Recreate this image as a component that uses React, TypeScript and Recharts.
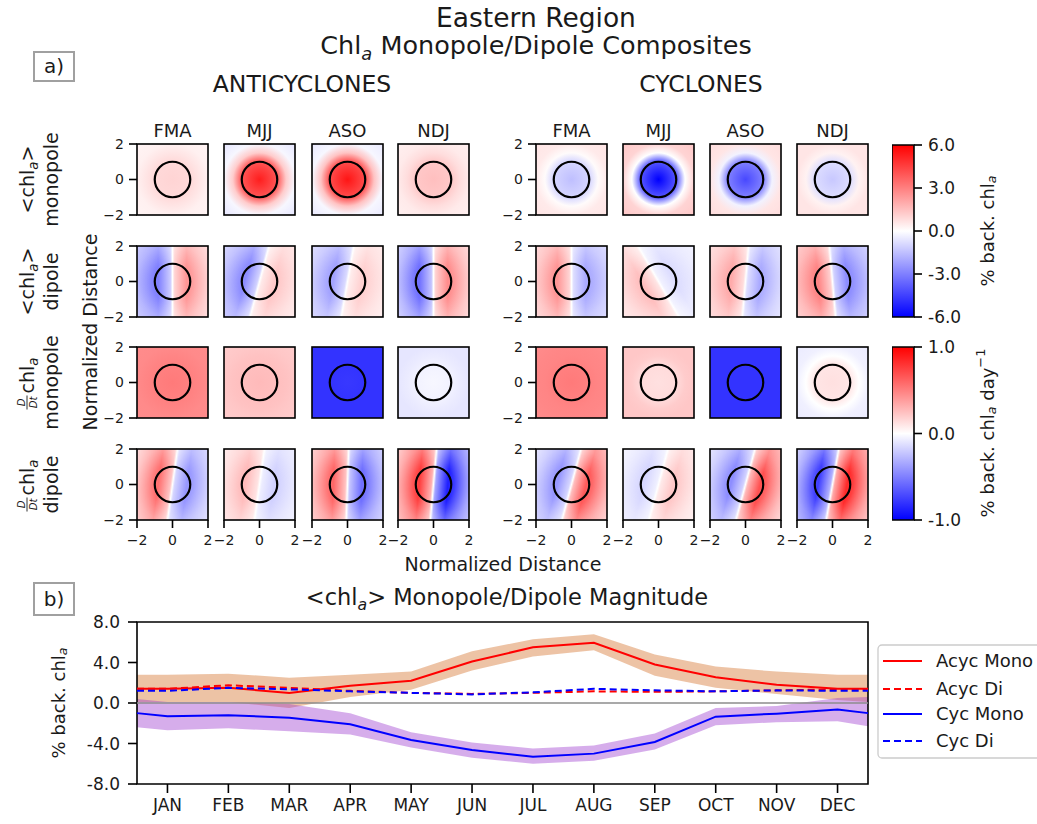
import React from 'react';
import {
  ComposedChart, ScatterChart, BarChart, Scatter, Bar, Area, Line,
  XAxis, YAxis, ReferenceArea, ReferenceLine,
} from 'recharts';

const FONT = '"DejaVu Sans", sans-serif';
const INK = '#1a1a1a';

// ---- composite panels -------------------------------------------------
const seasons = ['FMA', 'MJJ', 'ASO', 'NDJ'];

// normalized radii where the monopole profiles are sampled
const monoRadii = [0, 1, 1.5, 2, 2.83];

const acChlMono = [
  [1.0, 0.9, 0.6, 0.35, 0.25],
  [5.3, 4.0, 1.2, -0.2, -0.6],
  [5.5, 4.2, 1.4, -0.2, -0.5],
  [1.5, 1.3, 0.8, 0.5, 0.35],
];
const cyChlMono = [
  [-1.5, -1.0, 0.1, 0.5, 0.6],
  [-6.0, -4.0, 0.0, 1.0, 1.3],
  [-4.3, -3.0, -0.3, 0.6, 0.8],
  [-1.3, -0.8, 0.3, 0.6, 0.6],
];
const acRateMono = [
  [0.52, 0.5, 0.48, 0.46, 0.45],
  [0.27, 0.25, 0.24, 0.22, 0.2],
  [-0.78, -0.8, -0.8, -0.8, -0.8],
  [-0.03, -0.05, -0.08, -0.1, -0.1],
];
const cyRateMono = [
  [0.52, 0.5, 0.48, 0.47, 0.45],
  [0.12, 0.14, 0.2, 0.22, 0.22],
  [-0.8, -0.8, -0.8, -0.8, -0.8],
  [0.12, 0.1, 0.0, -0.06, -0.08],
];

// dipoles: [angle of + lobe (deg), + peak, - peak, + far, - far]
const acChlDipole = [
  [0, 2.5, -3.0, 0.9, -2.0],
  [-15, 1.3, -2.7, 0.8, -1.6],
  [-10, 1.1, -2.2, 0.6, -1.3],
  [0, 2.7, -3.4, 1.0, -1.3],
];
const cyChlDipole = [
  [180, 2.5, -2.0, 1.2, -1.4],
  [210, 1.5, -0.8, 1.0, -0.6],
  [175, 2.0, -2.0, 1.2, -0.8],
  [185, 2.9, -2.7, 1.8, -1.8],
];
const acRateDipole = [
  [172, 0.57, -0.41, 0.15, -0.15],
  [172, 0.27, -0.18, 0.1, -0.08],
  [178, 0.6, -0.57, 0.2, -0.2],
  [175, 0.76, -0.88, 0.2, -0.25],
];
const cyRateDipole = [
  [-15, 0.65, -0.41, 0.25, -0.15],
  [-15, 0.22, -0.16, 0.08, -0.06],
  [-15, 0.69, -0.45, 0.2, -0.15],
  [-10, 0.84, -0.76, 0.3, -0.2],
];

const chlTicks = [-6, -3, 0, 3, 6];
const rateTicks = [-1, 0, 1];

// ---- monthly magnitudes -------------------------------------------------
const months = ['JAN', 'FEB', 'MAR', 'APR', 'MAY', 'JUN', 'JUL', 'AUG', 'SEP', 'OCT', 'NOV', 'DEC'];
const monthPos = [0.5, 1, 2, 3, 4, 5, 6, 7, 8, 9, 10, 11, 12, 12.5];
const acycMono = [1.4, 1.4, 1.5, 1.0, 1.7, 2.2, 4.1, 5.5, 5.95, 3.8, 2.55, 1.8, 1.4, 1.4];
const acycLo = [0.1, 0.1, 0.1, -0.5, 0.6, 1.3, 3.2, 4.6, 5.2, 2.7, 1.5, 0.9, 0.3, 0.1];
const acycHi = [2.8, 2.8, 2.9, 2.5, 2.8, 3.1, 5.1, 6.3, 6.8, 4.8, 3.6, 3.1, 2.8, 2.8];
const acycDi = [1.4, 1.4, 1.75, 1.5, 1.2, 1.0, 0.9, 1.0, 1.15, 1.1, 1.15, 1.25, 1.35, 1.35];
const cycMono = [-1.0, -1.3, -1.2, -1.45, -2.1, -3.65, -4.65, -5.3, -5.0, -3.85, -1.35, -1.05, -0.65, -1.0];
const cycLo = [-2.4, -2.7, -2.5, -2.8, -3.1, -4.4, -5.4, -6.0, -5.7, -4.6, -2.2, -1.9, -1.8, -2.3];
const cycHi = [0.4, 0.1, 0.1, -0.1, -1.0, -2.9, -3.9, -4.5, -4.2, -3.0, -0.5, -0.3, 0.5, 0.6];
const cycDi = [1.2, 1.2, 1.5, 1.35, 1.15, 1.0, 0.85, 1.05, 1.4, 1.25, 1.15, 1.25, 1.2, 1.2];
const magTicks = [-8, -4, 0, 4, 8];

const magSeries = [
  { key: 'acycMono', name: 'Acyc Mono', color: '#ff0000', dash: undefined },
  { key: 'acycDi', name: 'Acyc Di', color: '#ff0000', dash: '7 4' },
  { key: 'cycMono', name: 'Cyc Mono', color: '#0000ff', dash: undefined },
  { key: 'cycDi', name: 'Cyc Di', color: '#0000ff', dash: '7 4' },
];

const magData = monthPos.map((m, i) => ({
  m,
  acycMono: acycMono[i],
  acycDi: acycDi[i],
  cycMono: cycMono[i],
  cycDi: cycDi[i],
  acycBand: [acycLo[i], acycHi[i]],
  cycBand: [cycLo[i], cycHi[i]],
}));

// matplotlib "bwr"
function bwr(v: number, lim: number) {
  const t = Math.max(0, Math.min(1, (v / lim + 1) / 2));
  if (t < 0.5) {
    const c = Math.round(510 * t);
    return `rgb(${c},${c},255)`;
  }
  const c = Math.round(510 * (1 - t));
  return `rgb(255,${c},${c})`;
}

const minus = (v: number) => (v < 0 ? `\u2212${Math.abs(v)}` : String(v));

// layout of the 4x8 grid
const S = 71;
const acLefts = [137, 224, 312, 398];
const cyLefts = [536, 623, 710, 797];
const rowTops = [144, 246, 347, 449];
const PAD_L = 40, PAD_T = 12, PAD_R = 12, PAD_B = 32;

type Row = { kind: 'mono' | 'dip'; ac: number[][]; cy: number[][]; lim: number };
const rows: Row[] = [
  { kind: 'mono', ac: acChlMono, cy: cyChlMono, lim: 6 },
  { kind: 'dip', ac: acChlDipole, cy: cyChlDipole, lim: 6 },
  { kind: 'mono', ac: acRateMono, cy: cyRateMono, lim: 1 },
  { kind: 'dip', ac: acRateDipole, cy: cyRateDipole, lim: 1 },
];

const dipStops = [-2.83, -0.8, -0.12, 0, 0.12, 0.8, 2.83];

function FieldShape(props: any) {
  const { x, y, width, height, gid, kind, spec, lim } = props;
  const cx = x + width / 2;
  const cy = y + height / 2;
  const unit = width / 4;
  const rMax = 2.83;
  let body;
  if (kind === 'mono') {
    body = (
      <>
        <defs>
          <radialGradient id={gid} gradientUnits="userSpaceOnUse" cx={cx} cy={cy} r={rMax * unit}>
            {spec.map((v: number, i: number) => (
              <stop key={i} offset={monoRadii[i] / rMax} stopColor={bwr(v, lim)} />
            ))}
          </radialGradient>
        </defs>
        <rect x={x} y={y} width={width} height={height} fill={`url(#${gid})`} />
      </>
    );
  } else {
    const [ang, pos, neg, posFar, negFar] = spec;
    const vals = [negFar, neg, 0.4 * neg, 0, 0.4 * pos, pos, posFar];
    const a = (ang * Math.PI) / 180;
    const dx = Math.cos(a) * rMax * unit;
    const dy = -Math.sin(a) * rMax * unit;
    body = (
      <>
        <defs>
          <linearGradient id={gid} gradientUnits="userSpaceOnUse" x1={cx - dx} y1={cy - dy} x2={cx + dx} y2={cy + dy}>
            {vals.map((v, i) => (
              <stop key={i} offset={(dipStops[i] + rMax) / (2 * rMax)} stopColor={bwr(v, lim)} />
            ))}
          </linearGradient>
          <radialGradient id={`${gid}-m`} gradientUnits="userSpaceOnUse" cx={cx} cy={cy} r={rMax * unit}>
            <stop offset={0} stopColor="#fff" />
            <stop offset={0.42} stopColor="#fff" />
            <stop offset={0.75} stopColor="#a8a8a8" />
            <stop offset={1} stopColor="#808080" />
          </radialGradient>
          <mask id={`${gid}-k`}>
            <rect x={x} y={y} width={width} height={height} fill={`url(#${gid}-m)`} />
          </mask>
        </defs>
        <rect x={x} y={y} width={width} height={height} fill="#fff" />
        <rect x={x} y={y} width={width} height={height} fill={`url(#${gid})`} mask={`url(#${gid}-k)`} />
      </>
    );
  }
  return (
    <g>
      {body}
      <rect x={x} y={y} width={width} height={height} fill="none" stroke="#000" strokeWidth={1.6} />
    </g>
  );
}

function EddyRing(props: any) {
  const { x, y, width, height } = props;
  return (
    <ellipse cx={x + width / 2} cy={y + height / 2} rx={width / 2} ry={height / 2}
      fill="none" stroke="#000" strokeWidth={2.2} />
  );
}

const centre = [{ x: 0, y: 0 }];
const panelTick = { fontSize: 14, fill: INK, fontFamily: FONT };

function Panel({ left, top, gid, kind, spec, lim, showX, showY }: any) {
  return (
    <div style={{ position: 'absolute', left: left - PAD_L, top: top - PAD_T }}>
      <ScatterChart width={PAD_L + S + PAD_R} height={PAD_T + S + PAD_B}
        margin={{ top: PAD_T, right: PAD_R, left: 0, bottom: 0 }}>
        <XAxis type="number" dataKey="x" domain={[-2, 2]} ticks={[-2, 0, 2]} interval={0}
          height={PAD_B} axisLine={false} tickSize={8} tickMargin={7}
          tickLine={{ stroke: '#000', strokeWidth: 1.6 }}
          tick={showX ? panelTick : false} tickFormatter={minus} />
        <YAxis type="number" dataKey="y" domain={[-2, 2]} ticks={[-2, 0, 2]} interval={0}
          width={PAD_L} axisLine={false} tickSize={8} tickMargin={5}
          tickLine={{ stroke: '#000', strokeWidth: 1.6 }}
          tick={showY ? panelTick : false} tickFormatter={minus} />
        <ReferenceArea x1={-2} x2={2} y1={-2} y2={2}
          shape={(p: any) => <FieldShape {...p} gid={gid} kind={kind} spec={spec} lim={lim} />} />
        <ReferenceArea x1={-1} x2={1} y1={-1} y2={1} shape={(p: any) => <EddyRing {...p} />} />
        <Scatter data={centre} isAnimationActive={false} shape={() => <g />} />
      </ScatterChart>
    </div>
  );
}

function Colorbar({ left, top, height, lim, ticks, gid }: any) {
  const data = [{ name: 'cb', range: [-lim, lim] }];
  return (
    <div style={{ position: 'absolute', left, top: top - 12 }}>
      <BarChart width={22 + 70} height={height + 24} data={data} barCategoryGap={0}
        margin={{ top: 12, right: 0, left: 0, bottom: 12 }}>
        <defs>
          <linearGradient id={gid} x1="0" y1="0" x2="0" y2="1">
            <stop offset="0" stopColor="#ff0000" />
            <stop offset="0.5" stopColor="#ffffff" />
            <stop offset="1" stopColor="#0000ff" />
          </linearGradient>
        </defs>
        <XAxis dataKey="name" hide />
        <YAxis orientation="right" type="number" domain={[-lim, lim]} ticks={ticks} interval={0}
          width={70} axisLine={false} tickSize={8} tickMargin={6}
          tickLine={{ stroke: '#000', strokeWidth: 1.6 }}
          tick={{ fontSize: 17, fill: INK, fontFamily: FONT }}
          tickFormatter={(v: number) => v.toFixed(1)} />
        <Bar dataKey="range" fill={`url(#${gid})`} stroke="#000" strokeWidth={1.6} isAnimationActive={false} />
      </BarChart>
    </div>
  );
}

function MagnitudeChart() {
  return (
    <div style={{ position: 'absolute', left: 0, top: 590 }}>
      <ComposedChart width={1037} height={240} data={magData}
        margin={{ top: 32, right: 169, left: 0, bottom: 0 }}>
        <XAxis type="number" dataKey="m" domain={[0.5, 12.5]} ticks={[1, 2, 3, 4, 5, 6, 7, 8, 9, 10, 11, 12]}
          interval={0} height={46} axisLine={false} tickSize={9} tickMargin={6}
          tickLine={{ stroke: '#000', strokeWidth: 1.6 }}
          tick={{ fontSize: 17, fill: INK, fontFamily: FONT }}
          tickFormatter={(v: number) => months[v - 1]} />
        <YAxis type="number" domain={[-8, 8]} ticks={magTicks} interval={0} width={137}
          axisLine={false} tickSize={9} tickMargin={8}
          tickLine={{ stroke: '#000', strokeWidth: 1.6 }}
          tick={{ fontSize: 17, fill: INK, fontFamily: FONT }}
          tickFormatter={(v: number) => v.toFixed(1)} />
        <ReferenceLine y={0} stroke="#8c8c8c" strokeWidth={1.3} />
        <Area type="linear" dataKey="acycBand" stroke="none" fill="#d2691e" fillOpacity={0.4}
          isAnimationActive={false} />
        <Area type="linear" dataKey="cycBand" stroke="none" fill="#9932cc" fillOpacity={0.4}
          isAnimationActive={false} />
        {magSeries.map((s) => (
          <Line key={s.key} type="linear" dataKey={s.key} stroke={s.color} strokeWidth={2}
            strokeDasharray={s.dash} dot={false} isAnimationActive={false} />
        ))}
        <ReferenceArea x1={0.5} x2={12.5} y1={-8} y2={8} fill="none" stroke="#000"
          strokeWidth={1.6} fillOpacity={0} ifOverflow="visible" />
      </ComposedChart>
    </div>
  );
}

// text with an italic subscript "a"
function ChlA({ head, tail, size }: { head: string; tail?: React.ReactNode; size: number }) {
  return (
    <>
      {head}
      <tspan fontSize={size * 0.7} fontStyle="italic" dy={size * 0.22}>a</tspan>
      <tspan fontSize={size} dy={-size * 0.22}>{tail ?? ''}</tspan>
    </>
  );
}

function RowLabel({ cy, bottom, rate }: { cy: number; bottom: string; rate: boolean }) {
  const fs = 19;
  return (
    <g transform={`translate(40, ${cy}) rotate(-90)`} fontFamily={FONT} fill={INK}>
      {rate ? (
        <g transform="translate(0,-12)">
          <text x={-20} y={-3} fontSize={10} fontStyle="italic" textAnchor="middle">D</text>
          <line x1={-27} x2={-13} y1={-1} y2={-1} stroke={INK} strokeWidth={0.9} />
          <text x={-20} y={9} fontSize={10} fontStyle="italic" textAnchor="middle">Dt</text>
          <text x={-11} y={6} fontSize={fs}><ChlA head="chl" size={fs} /></text>
        </g>
      ) : (
        <text x={0} y={-6} fontSize={fs} textAnchor="middle"><ChlA head="<chl" tail=">" size={fs} /></text>
      )}
      <text x={0} y={18} fontSize={fs} textAnchor="middle">{bottom}</text>
    </g>
  );
}

function Annotations() {
  const acCenters = acLefts.map((l) => l + S / 2);
  const cyCenters = cyLefts.map((l) => l + S / 2);
  const legendRows = [661, 689, 714, 741];
  return (
    <svg width={1037} height={824} style={{ position: 'absolute', left: 0, top: 0, pointerEvents: 'none' }}
      fontFamily={FONT}>
      <text x={536} y={27} fontSize={26.5} textAnchor="middle" fill={INK}>Eastern Region</text>
      <text x={536} y={54} fontSize={25.5} textAnchor="middle" fill={INK}>
        <ChlA head="Chl" tail=" Monopole/Dipole Composites" size={25.5} />
      </text>
      <rect x={34} y={52} width={40} height={29} fill="#fff" stroke="#a0a0a0" strokeWidth={2} />
      <text x={54} y={73} fontSize={20} textAnchor="middle" fill={INK}>a)</text>
      <text x={302} y={92} fontSize={23.5} textAnchor="middle" fill={INK}>ANTICYCLONES</text>
      <text x={701} y={92} fontSize={23.5} textAnchor="middle" fill={INK}>CYCLONES</text>
      {seasons.map((s, i) => (
        <React.Fragment key={s}>
          <text x={acCenters[i]} y={137} fontSize={18} textAnchor="middle" fill={INK}>{s}</text>
          <text x={cyCenters[i]} y={137} fontSize={18} textAnchor="middle" fill={INK}>{s}</text>
        </React.Fragment>
      ))}
      <RowLabel cy={rowTops[0] + S / 2} bottom="monopole" rate={false} />
      <RowLabel cy={rowTops[1] + S / 2} bottom="dipole" rate={false} />
      <RowLabel cy={rowTops[2] + S / 2} bottom="monopole" rate />
      <RowLabel cy={rowTops[3] + S / 2} bottom="dipole" rate />
      <text transform="translate(90, 332) rotate(-90)" fontSize={19} textAnchor="middle"
        dominantBaseline="central" fill={INK}>Normalized Distance</text>
      <text x={503} y={571} fontSize={19} textAnchor="middle" fill={INK}>Normalized Distance</text>
      <text transform="translate(987, 231) rotate(-90)" fontSize={18} textAnchor="middle"
        dominantBaseline="central" fill={INK}>
        <ChlA head="% back. chl" size={18} />
      </text>
      <text transform="translate(987, 433) rotate(-90)" fontSize={18} textAnchor="middle"
        dominantBaseline="central" fill={INK}>
        <ChlA head="% back. chl" tail=" day" size={18} />
        <tspan fontSize={13} dy={-7}>{'\u22121'}</tspan>
      </text>

      <rect x={34} y={583} width={40} height={32} fill="#fff" stroke="#a0a0a0" strokeWidth={2} />
      <text x={54} y={606} fontSize={20} textAnchor="middle" fill={INK}>b)</text>
      <text x={507} y={605} fontSize={22.5} textAnchor="middle" fill={INK}>
        <ChlA head="<chl" tail="> Monopole/Dipole Magnitude" size={22.5} />
      </text>
      <text transform="translate(58, 703) rotate(-90)" fontSize={18} textAnchor="middle"
        dominantBaseline="central" fill={INK}>
        <ChlA head="% back. chl" size={18} />
      </text>

      <rect x={878} y={645} width={175} height={113} rx={4} fill="#fff" stroke="#cccccc" strokeWidth={1.3} />
      {magSeries.map((s, i) => (
        <g key={s.key}>
          <line x1={883} x2={922} y1={legendRows[i]} y2={legendRows[i]} stroke={s.color}
            strokeWidth={2} strokeDasharray={s.dash} />
          <text x={936} y={legendRows[i] + 6} fontSize={18} fill={INK}>{s.name}</text>
        </g>
      ))}
    </svg>
  );
}

export default function App() {
  return (
    <div style={{ position: 'absolute', left: 0, top: 0, width: 1037, height: 824, overflow: 'hidden', background: '#fff' }}>
      {rows.map((row, r) => (
        <React.Fragment key={r}>
          {row.ac.map((spec, c) => (
            <Panel key={`a${c}`} left={acLefts[c]} top={rowTops[r]} gid={`ac-${r}-${c}`}
              kind={row.kind} spec={spec} lim={row.lim} showX={r === 3} showY={c === 0} />
          ))}
          {row.cy.map((spec, c) => (
            <Panel key={`c${c}`} left={cyLefts[c]} top={rowTops[r]} gid={`cy-${r}-${c}`}
              kind={row.kind} spec={spec} lim={row.lim} showX={r === 3} showY={c === 0} />
          ))}
        </React.Fragment>
      ))}
      <Colorbar left={892} top={145} height={172} lim={6} ticks={chlTicks} gid="cb-chl" />
      <Colorbar left={892} top={347} height={173} lim={1} ticks={rateTicks} gid="cb-rate" />
      <MagnitudeChart />
      <Annotations />
    </div>
  );
}
